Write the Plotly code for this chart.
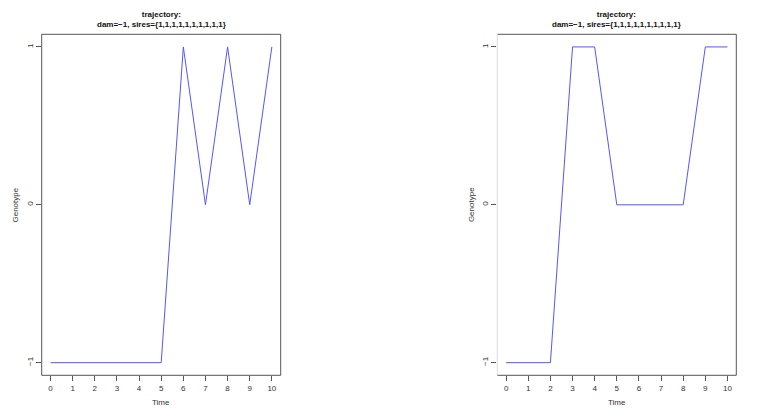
import plotly.graph_objects as go

time = list(range(11))
geno_left = [-1, -1, -1, -1, -1, -1, 1, 0, 1, 0, 1]
geno_right = [-1, -1, -1, 1, 1, 0, 0, 0, 0, 1, 1]
title_lines = ["trajectory:", "dam=\u22121, sires={1,1,1,1,1,1,1,1,1,1}"]
x_ticks = list(range(11))
y_ticks = [-1, 0, 1]

W, H = 761, 420
FONT = "Liberation Sans, Arial, sans-serif"

panels = [
    dict(x0=41.7, x1=280.7, y=geno_left, left_col="#555555"),
    dict(x0=497.3, x1=736.3, y=geno_right, left_col="#dddddd"),
]
top_px, bot_px = 34.3, 375.3

fig = go.Figure()
shapes = []
annotations = []
layout = {}
for i, p in enumerate(panels):
    n = "" if i == 0 else str(i + 1)
    fig.add_trace(go.Scatter(x=time, y=p["y"], mode="lines",
                             line=dict(color="#5555ff", width=1),
                             xaxis="x" + n, yaxis="y" + n, showlegend=False))
    dx = [p["x0"] / W, p["x1"] / W]
    dy = [1 - bot_px / H, 1 - top_px / H]
    layout["xaxis" + n] = dict(domain=dx, range=[-0.4, 10.4], tickvals=x_ticks,
                               ticks="outside", ticklen=5, tickcolor="#555555",
                               showgrid=False, zeroline=False, showline=False,
                               automargin=False,
                               tickfont=dict(size=8, color="#333333", family=FONT),
                               anchor="y" + n, fixedrange=True)
    layout["yaxis" + n] = dict(domain=dy, range=[-1.08, 1.08], tickvals=y_ticks,
                               ticks="outside", ticklen=5, tickcolor="#555555",
                               tickangle=-90, automargin=False,
                               showgrid=False, zeroline=False, showline=False,
                               tickfont=dict(size=8, color="#333333", family=FONT),
                               anchor="x" + n, fixedrange=True)
    x0, x1 = dx
    y0, y1 = dy
    for (a, b, c, d, col) in [(x0, y1, x1, y1, "#555555"), (x1, y0, x1, y1, "#555555"),
                              (x0, y0, x1, y0, "#555555"), (x0, y0, x0, y1, p["left_col"])]:
        shapes.append(dict(type="line", xref="paper", yref="paper", x0=a, y0=b, x1=c, y1=d,
                           line=dict(color=col, width=1)))
    annotations.append(dict(xref="paper", yref="paper", x=(x0 + x1) / 2, y=1 - 8 / H,
                            xanchor="center", yanchor="top", showarrow=False,
                            text="<b>" + title_lines[0] + "</b><br><b>" + title_lines[1] + "</b>",
                            font=dict(size=8, color="#111111", family=FONT)))
    annotations.append(dict(xref="paper", yref="paper", x=(x0 + x1) / 2, y=1 - 402 / H,
                            xanchor="center", yanchor="middle", showarrow=False,
                            text="Time", font=dict(size=8, color="#333333", family=FONT)))
    annotations.append(dict(xref="paper", yref="paper", x=(p["x0"] - 26) / W, y=(y0 + y1) / 2,
                            xanchor="center", yanchor="middle", showarrow=False, textangle=-90,
                            text="Genotype", font=dict(size=8, color="#333333", family=FONT)))

fig.update_layout(width=W, height=H, margin=dict(l=0, r=0, t=0, b=0),
                  paper_bgcolor="white", plot_bgcolor="white",
                  shapes=shapes, annotations=annotations, **layout)
fig.write_html("out.html", config={"displayModeBar": False},
               post_script="document.body.style.margin='0';document.body.style.padding='0';")
